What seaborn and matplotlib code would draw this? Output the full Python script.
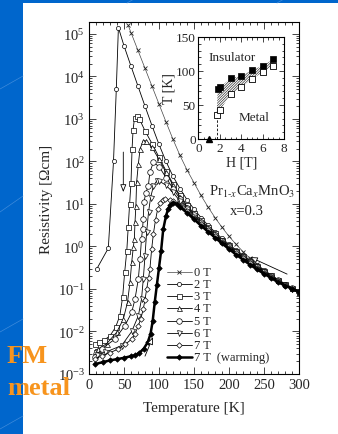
import numpy as np
import matplotlib
matplotlib.use("Agg")
import matplotlib.pyplot as plt
import matplotlib.ticker as mticker
from matplotlib.patches import Rectangle
from matplotlib.lines import Line2D
import seaborn as sns

# ---------------- data (log10 of resistivity in Ohm cm) ----------------
t_0T = [56, 60, 70, 80, 90, 100, 110, 120, 130, 140, 150, 160, 170, 180, 190, 200,
        210, 220, 230, 240, 250, 260, 270, 280, 290, 300]
r_0T = [5.2, 5.03, 4.61, 4.19, 3.77, 3.35, 2.93, 2.52, 2.14, 1.8, 1.5, 1.2, 0.93, 0.68,
        0.45, 0.24, 0.05, -0.12, -0.28, -0.42, -0.55, -0.67, -0.78, -0.88, -0.97, -1.06]

t_2T = [11, 27.6, 35, 39, 42, 50, 60, 70, 80, 90, 100, 110, 120, 130, 140, 150, 160,
        170, 180, 190, 200, 210, 220, 230, 240, 250, 260, 270, 280, 290, 300]
r_2T = [-0.53, -0.04, 2.0, 3.7, 5.15, 4.72, 4.24, 3.77, 3.3, 2.84, 2.4, 2.0, 1.65, 1.36,
        1.1, 0.88, 0.68, 0.5, 0.34, 0.19, 0.05, -0.08, -0.2, -0.32, -0.44, -0.56, -0.67,
        -0.78, -0.88, -0.97, -1.06]

t_3T = [8, 14, 22, 30, 38, 44, 48, 51, 54, 56, 58, 60, 61.5, 63, 65, 68, 72, 80, 90, 100,
        110, 120, 130, 140, 150, 160, 170, 180, 190, 200, 210, 220, 230, 240, 250, 260,
        270, 280, 290, 300]
r_3T = [-2.3, -2.25, -2.2, -2.1, -1.9, -1.63, -1.2, -0.6, -0.1, 0.45, 1.0, 1.5, 2.29,
        2.75, 3.02, 3.08, 3.0, 2.72, 2.42, 2.1, 1.78, 1.47, 1.2, 0.97, 0.78, 0.62, 0.46,
        0.31, 0.16, 0.03, -0.1, -0.22, -0.34, -0.46, -0.57, -0.68, -0.79, -0.88, -0.97, -1.06]

t_4T = [8, 13, 25, 39.5, 49, 55, 58.6, 61, 63.3, 64.8, 65.7, 67, 68, 70.5, 73, 77.6, 82,
        90, 100, 110, 120, 130, 140, 150, 160, 170, 180, 190, 200, 210, 220, 230, 240,
        250, 260, 270, 280, 290, 300]
r_4T = [-2.45, -2.41, -2.29, -2.02, -1.71, -1.31, -0.84, -0.37, -0.02, 0.18, 0.57, 0.96,
        1.51, 1.94, 2.3, 2.49, 2.48, 2.33, 2.05, 1.74, 1.44, 1.17, 0.94, 0.75, 0.59, 0.44,
        0.29, 0.14, 0.01, -0.12, -0.24, -0.36, -0.47, -0.58, -0.69, -0.8, -0.89, -0.98, -1.06]

t_5T = [9, 18, 37, 51.4, 61, 65.7, 70.5, 73, 75, 76.5, 77.5, 78.5, 81, 84.8, 87, 92, 100,
        110, 120, 130, 140, 150, 160, 170, 180, 190, 200, 210, 220, 230, 240, 250, 260,
        270, 280, 290, 300]
r_5T = [-2.6, -2.41, -2.18, -1.86, -1.55, -1.24, -0.76, -0.29, 0.18, 0.41, 0.65, 1.04,
        1.25, 1.43, 1.75, 1.98, 1.88, 1.62, 1.36, 1.12, 0.91, 0.73, 0.57, 0.42, 0.27, 0.13,
        0.0, -0.13, -0.25, -0.37, -0.48, -0.59, -0.7, -0.8, -0.9, -0.98, -1.06]

t_6T = [12, 23, 46.7, 61, 70.5, 75, 77.6, 80, 82.4, 85, 88, 92, 97, 100, 110, 120, 130,
        140, 150, 160, 170, 180, 190, 200, 210, 220, 230, 240, 250, 260, 270, 280, 290, 300]
r_6T = [-2.55, -2.49, -2.33, -2.0, -1.63, -1.24, -0.76, -0.22, 0.35, 0.8, 1.15, 1.42,
        1.55, 1.54, 1.44, 1.27, 1.07, 0.88, 0.7, 0.55, 0.4, 0.26, 0.12, -0.01, -0.14,
        -0.26, -0.38, -0.49, -0.6, -0.71, -0.81, -0.9, -0.99, -1.06]

t_7T = [9, 18, 30, 42, 52, 61, 66, 70.5, 74, 77.6, 80, 82.4, 85, 87, 89.5, 92, 95, 98,
        102, 106, 109, 115, 120, 130, 140, 150, 160, 170, 180, 190, 200, 210, 220, 230,
        240, 250, 260, 270, 280, 290, 300]
r_7T = [-2.65, -2.57, -2.5, -2.41, -2.3, -2.18, -2.05, -1.86, -1.7, -1.47, -1.25, -1.0,
        -0.75, -0.53, -0.06, 0.3, 0.62, 0.87, 1.03, 1.1, 1.12, 1.1, 1.06, 0.96, 0.83, 0.67,
        0.52, 0.38, 0.24, 0.1, -0.03, -0.16, -0.28, -0.4, -0.51, -0.62, -0.72, -0.82,
        -0.91, -0.99, -1.07]

t_7Tw = [8, 20, 30, 40, 50, 60, 66, 72, 78, 84, 88, 91, 94, 97, 100, 103, 106, 110, 113,
         116, 120, 125, 130, 140, 150, 160, 170, 180, 190, 200, 210, 220, 230, 240, 250,
         260, 270, 280, 290, 300]
r_7Tw = [-2.77, -2.72, -2.68, -2.65, -2.62, -2.58, -2.56, -2.5, -2.41, -2.25, -2.05, -1.75,
         -1.3, -0.9, -0.5, -0.1, 0.4, 0.72, 0.88, 0.98, 1.03, 1.0, 0.93, 0.79, 0.64, 0.49,
         0.35, 0.21, 0.07, -0.06, -0.19, -0.31, -0.43, -0.54, -0.64, -0.74, -0.84, -0.92,
         -1.0, -1.07]

labels = ["0 T", "2 T", "3 T", "4 T", "5 T", "6 T", "7 T", "7 T  (warming)"]

# inset: phase boundary
h_up = [1.8, 2.0, 3.0, 4.0, 5.0, 6.0, 7.0]
tc_up = [73, 76, 89, 93, 101, 108, 117]
h_dn = [1.7, 2.0, 3.0, 4.0, 5.0, 6.0, 7.0]
tc_dn = [36, 42, 66, 76, 88, 98, 108]

# ---------------- styling ----------------
sns.set_style("ticks")
plt.rcParams["font.family"] = ["Liberation Serif", "DejaVu Serif"]
plt.rcParams["mathtext.fontset"] = "stix"
plt.rcParams["hatch.linewidth"] = 0.5
plt.rcParams["axes.linewidth"] = 0.8

W, H = 338, 435
fig = plt.figure(figsize=(W / 100, H / 100), dpi=100, facecolor="#0066CC")
fig.patches.append(Rectangle((23 / W, 0), 1, (H - 4) / H, transform=fig.transFigure,
                             facecolor="white", edgecolor="none", zorder=-10))
# faint decorative lines on blue margin
for (x0, y0, x1, y1) in [(0, 90, 23, 77), (0, 213, 23, 197), (0, 333, 23, 320),
                         (0, 430, 23, 417), (127, 4, 134, 0), (277, 4, 284, 0)]:
    fig.add_artist(Line2D([x0 / W, x1 / W], [1 - y0 / H, 1 - y1 / H],
                          transform=fig.transFigure, color="#3F8BDB", lw=0.5, zorder=-9))

ax = fig.add_axes([89 / W, 60 / H, 210 / W, 352 / H])
ax.set_facecolor("white")

series = [
    (t_0T, r_0T, dict(marker="x", markersize=3.2, lw=0.5, color="#444444",
                      markeredgecolor="#222222", markeredgewidth=0.6)),
    (t_2T, r_2T, dict(marker="o", markersize=3.0, lw=0.6, color="black",
                      markerfacecolor="white", markeredgecolor="black", markeredgewidth=0.5)),
    (t_3T, r_3T, dict(marker="s", markersize=3.6, lw=0.6, color="black",
                      markerfacecolor="white", markeredgecolor="black", markeredgewidth=0.5)),
    (t_4T, r_4T, dict(marker="^", markersize=3.6, lw=0.6, color="black",
                      markerfacecolor="white", markeredgecolor="black", markeredgewidth=0.5)),
    (t_5T, r_5T, dict(marker="o", markersize=4.0, lw=0.6, color="black",
                      markerfacecolor="white", markeredgecolor="black", markeredgewidth=0.5)),
    (t_6T, r_6T, dict(marker="v", markersize=3.6, lw=0.6, color="black",
                      markerfacecolor="white", markeredgecolor="black", markeredgewidth=0.5)),
    (t_7T, r_7T, dict(marker="D", markersize=2.8, lw=0.6, color="black",
                      markerfacecolor="white", markeredgecolor="black", markeredgewidth=0.5)),
    (t_7Tw, r_7Tw, dict(marker="D", markersize=2.8, lw=1.8, color="black",
                        markerfacecolor="black", markeredgecolor="black", markeredgewidth=0.5)),
]

for t, r, st in series:
    sns.lineplot(x=np.array(t, float), y=10 ** np.array(r, float), ax=ax, sort=False,
                 estimator=None, legend=False, **st)

ax.set_yscale("log")
ax.set_xlim(0, 300)
ax.set_ylim(1e-3, 10 ** 5.28)
ax.xaxis.set_major_locator(mticker.MultipleLocator(50))
ax.xaxis.set_minor_locator(mticker.MultipleLocator(10))
ax.yaxis.set_major_locator(mticker.LogLocator(base=10, numticks=20))
ax.yaxis.set_minor_locator(mticker.LogLocator(base=10, subs=np.arange(2, 10), numticks=20))
ax.yaxis.set_minor_formatter(mticker.NullFormatter())
ax.tick_params(which="both", direction="in", top=True, right=True, width=0.6,
               labelsize=10.5, pad=3)
ax.tick_params(which="major", length=5)
ax.tick_params(which="minor", length=2.5)
ax.set_xlabel("Temperature [K]", fontsize=11, labelpad=7)
ax.set_ylabel("Resistivity [Ωcm]", fontsize=11, labelpad=3)
for s in ax.spines.values():
    s.set_visible(True)
    s.set_color("black")

# manual legend
y0 = 0.289
dy = 12.06 / 352
for i, (lab, (t, r, st)) in enumerate(zip(labels, series)):
    yy = y0 - i * dy
    ln = Line2D([0.370, 0.43, 0.489], [yy, yy, yy], transform=ax.transAxes,
                markevery=[1], **st)
    ax.add_line(ln)
    ax.text(0.498, yy, lab, transform=ax.transAxes, fontsize=9, va="center", ha="left")

# annotations
ax.text(0.775, 0.521, r"Pr$_{1\text{-}x}$Ca$_x$MnO$_3$", transform=ax.transAxes,
        fontsize=10.5, ha="center", va="center")
ax.text(0.751, 0.464, "x=0.3", transform=ax.transAxes, fontsize=10.5,
        ha="center", va="center")
arrow = dict(arrowstyle="-|>,head_width=0.18,head_length=0.45", lw=0.6, color="black",
             fc="white", shrinkA=0, shrinkB=0)
ax.annotate("", xy=(230, 10 ** -0.25), xytext=(283, 10 ** -0.65), arrowprops=arrow)
ax.annotate("", xy=(91.4, 10 ** -2.13), xytext=(80, 10 ** -2.58), arrowprops=arrow)
ax.annotate("", xy=(49, 10 ** 1.28), xytext=(49, 10 ** 2.22), arrowprops=arrow)

# ---------------- inset ----------------
axi = fig.add_axes([198.5 / W, (H - 140) / H, 85.5 / W, 102 / H])
axi.set_facecolor("white")
axi.fill(np.r_[h_up, h_dn[::-1]], np.r_[tc_up, tc_dn[::-1]], facecolor="white",
         edgecolor="#333333", hatch="/" * 13, lw=0)
sns.scatterplot(x=h_up, y=tc_up, ax=axi, marker="s", s=24, color="black",
                edgecolor="black", linewidth=0.5, zorder=3)
sns.scatterplot(x=h_dn, y=tc_dn, ax=axi, marker="s", s=24, color="white",
                edgecolor="black", linewidth=0.6, zorder=3)
axi.plot([h_dn[0], h_dn[0]], [0, tc_dn[0]], ls=(0, (3, 2)), lw=0.6, color="black")
axi.plot([1.0], [0], marker="^", ms=5, color="black", clip_on=False, zorder=4)
axi.set_xlim(0, 8)
axi.set_ylim(0, 150)
axi.xaxis.set_major_locator(mticker.MultipleLocator(2))
axi.xaxis.set_minor_locator(mticker.MultipleLocator(0.5))
axi.yaxis.set_major_locator(mticker.MultipleLocator(50))
axi.yaxis.set_minor_locator(mticker.MultipleLocator(10))
axi.tick_params(which="both", direction="in", top=True, right=True, width=0.6,
                labelsize=9.5, pad=2)
axi.tick_params(which="major", length=3.5)
axi.tick_params(which="minor", length=1.8)
axi.set_xlabel("H [T]", fontsize=10, labelpad=1)
axi.set_ylabel("T [K]", fontsize=10, labelpad=0)
axi.text(3.1, 120, "Insulator", fontsize=9.5, ha="center", va="center")
axi.text(5.2, 33, "Metal", fontsize=9.5, ha="center", va="center")
for s in axi.spines.values():
    s.set_visible(True)
    s.set_color("black")

# slide text
fig.text(7 / W, (H - 363) / H, "FM", fontsize=19, fontweight="bold", color="#F7941D",
         ha="left", va="baseline", zorder=10)
fig.text(7 / W, (H - 395) / H, "metal", fontsize=19, fontweight="bold", color="#F7941D",
         ha="left", va="baseline", zorder=10)

fig.savefig("out.png", dpi=100, facecolor=fig.get_facecolor())
